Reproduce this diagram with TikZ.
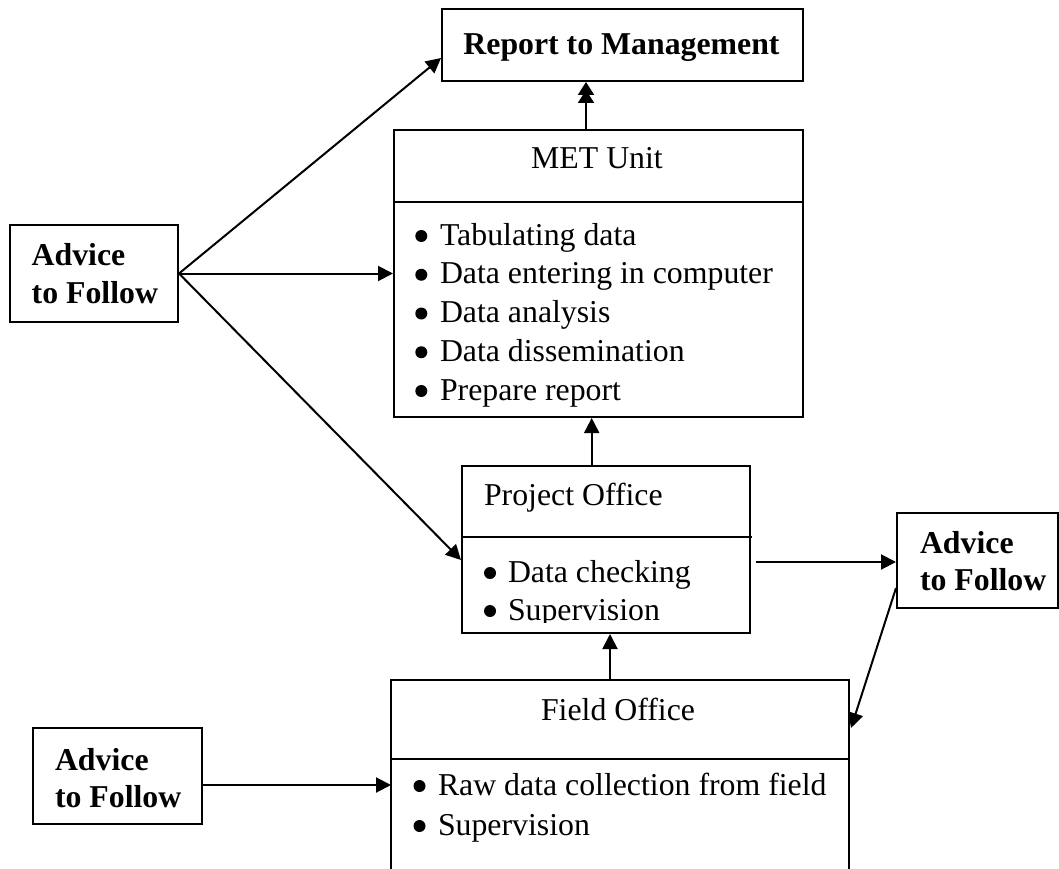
\documentclass[tikz,border=0pt]{standalone}
\usepackage{fontspec}
\setmainfont{Liberation Serif}
\usetikzlibrary{arrows.meta}
\begin{document}
\begin{tikzpicture}[x=1pt,y=-1pt,line width=2pt,
  box/.style={draw,rectangle,inner sep=0pt,line width=2pt},
  open/.style={rectangle,inner sep=0pt},
  tx/.style={anchor=base west,inner sep=0pt,font=\fontsize{31.8}{38}\selectfont},
  ctx/.style={anchor=base,inner sep=0pt,font=\fontsize{31.8}{38}\selectfont},
  btx/.style={anchor=base west,inner sep=0pt,font=\fontsize{31.8}{38}\selectfont\bfseries},
  bctx/.style={anchor=base,inner sep=0pt,font=\fontsize{31.8}{38}\selectfont\bfseries},
  arr/.style={-{Triangle[length=15pt,width=15pt]},line width=2pt},
  darr/.style={-{Triangle[length=13pt,width=16pt,sep=-5pt]Triangle[length=13pt,width=16pt]},line width=2pt}]
\useasboundingbox (0,0) rectangle (1059,869);

% boxes
\node[box,minimum width=361pt,minimum height=72pt] (rep) at (622.5,45) {};
\node[box,minimum width=409pt,minimum height=287pt] (met) at (598.5,273.5) {};
\node[box,minimum width=168.5pt,minimum height=97pt] (adv1) at (93.75,273.5) {};
\node[box,minimum width=288pt,minimum height=167pt] (po) at (606,549.5) {};
\node[box,minimum width=161pt,minimum height=95pt] (adv2) at (977.5,560.5) {};
\node[open,minimum width=456pt,minimum height=188pt] (fo) at (620,775) {};
\node[box,minimum width=169pt,minimum height=96pt] (adv3) at (117.5,776) {};
\draw (fo.south west) -- (fo.north west) -- (fo.north east) -- (fo.south east);

% dividers
\draw (394,201.5) -- (803,201.5);
\draw (462,537) -- (752,537);
\draw (392,759) -- (850,759);

% texts
\node[bctx] (reptx) at (621.5,54.5) {Report to Management};
\node[ctx] (mettx) at (597,168) {MET Unit};
\foreach \t [count=\i from 0] in {Tabulating data,Data entering in computer,Data analysis,Data dissemination,Prepare report}{
  \node[tx] (metl\i) at (439,245+38.75*\i) {\t};
  \fill (421.3,236+38.75*\i) circle (6pt);
}

\node[tx] (potx) at (483,505) {Project Office};
\begin{scope}
\clip (462,466) rectangle (750,622);
\node[tx] (pol0) at (507,582) {Data checking};
\node[tx] (pol1) at (507,620) {Supervision};
\fill (490,573) circle (6pt);
\fill (490,611) circle (6pt);
\end{scope}

\node[ctx] (fotx) at (618,720) {Field Office};
\node[tx] (fol0) at (437,795) {Raw data collection from field};
\node[tx] (fol1) at (437,835) {Supervision};
\fill (419.5,786) circle (6pt);
\fill (419.5,826) circle (6pt);

\node[btx] (a1a) at (30.7,265) {Advice};
\node[btx] (a1b) at (30.7,303) {to Follow};
\node[btx] (a2a) at (919,553) {Advice};
\node[btx] (a2b) at (919,590) {to Follow};
\node[btx] (a3a) at (54,770) {Advice};
\node[btx] (a3b) at (54,807) {to Follow};

% connectors
\draw[darr] ([xshift=-12.5pt]met.north) -- ([xshift=-36.5pt]rep.south);
\draw[arr] (adv1.east) -- ([yshift=-13pt]rep.west);
\draw[arr] (adv1.east) -- (met.west);
\draw[arr] (adv1.east) -- ([yshift=-10.5pt]po.west);
\draw[arr] ([xshift=-14.3pt]po.north) -- ([xshift=-6.8pt]met.south);
\draw[arr] ([xshift=5pt,yshift=-12.5pt]po.east) -- ([yshift=-1.5pt]adv2.west);
\draw[arr] ([yshift=-27.5pt]adv2.west) -- ([xshift=2pt,yshift=47pt]fo.east);
\draw[arr] ([xshift=-10pt]fo.north) -- ([xshift=4pt]po.south);
\draw[arr] ([yshift=-9pt]adv3.east) -- ([yshift=-10pt]fo.west);
\end{tikzpicture}
\end{document}
